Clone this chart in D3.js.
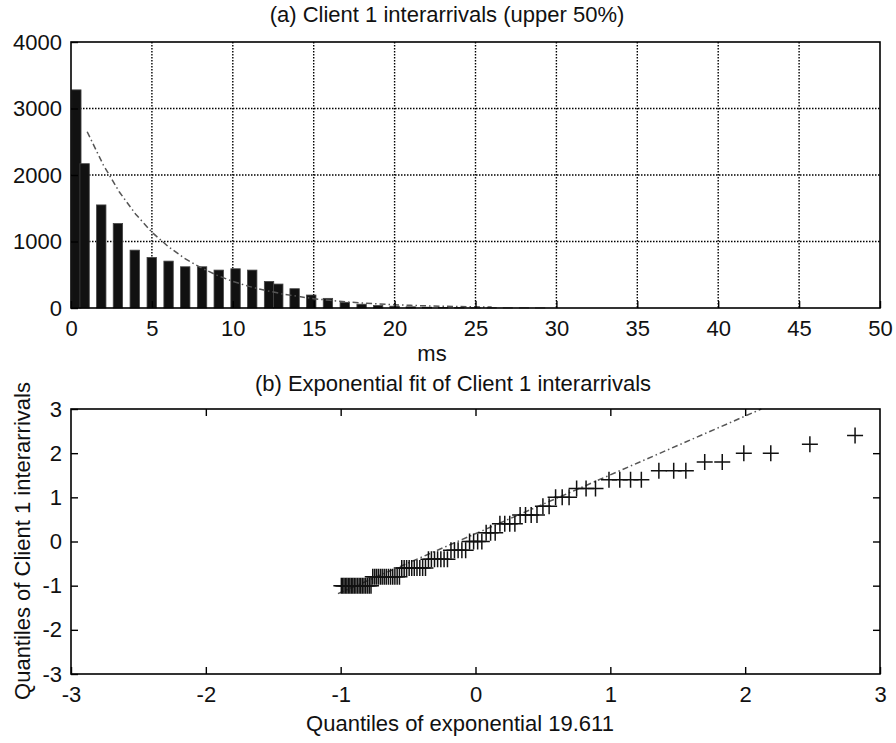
<!DOCTYPE html>
<html>
<head>
<meta charset="utf-8">
<script src="https://cdn.jsdelivr.net/npm/d3@7"></script>
<style>
  body { margin: 0; background: #fff; }
  svg text { font-family: "Liberation Sans", Arial, sans-serif; fill: #111; }
</style>
</head>
<body>
<div id="chart"></div>
<script>
// (a) histogram of interarrivals, bin centres in ms and counts
const binCenters = [0.33, 0.84, 1.87, 2.9, 3.94, 4.99, 6.03, 7.06, 8.1, 9.13, 10.17, 11.2, 12.24, 12.81,
  13.82, 14.85, 15.88, 16.92, 17.96, 18.98, 20.0, 21.0, 22.0, 23.0, 24.0, 25.0, 26.0, 27.0, 28.0, 29.0];
const binCounts = [3280, 2170, 1550, 1270, 870, 760, 705, 620, 620, 570, 590, 570, 400, 360,
  290, 195, 145, 85, 57, 38, 27, 18, 12, 9, 6, 4, 3, 2, 2, 1];

// exponential fit drawn over the histogram
const fitX = [1, 2, 3, 4, 5, 6, 7, 8, 9, 10, 11, 12, 13, 14, 15, 16, 17, 18, 19, 20, 21, 22, 23, 24, 25, 26];
const fitY = [2650, 2150, 1740, 1410, 1140, 925, 750, 610, 495, 400, 325, 265, 215, 175, 140, 115,
  92, 75, 61, 49, 40, 32, 26, 21, 17, 14];

const xTicksA = [0, 5, 10, 15, 20, 25, 30, 35, 40, 45, 50];
const yTicksA = [0, 1000, 2000, 3000, 4000];

// (b) qq plot: quantiles of exponential vs quantiles of the data
const qqX = [
  -0.995, -0.985, -0.975, -0.964, -0.954, -0.943, -0.932, -0.921, -0.910, -0.899,
  -0.887, -0.875, -0.863, -0.851, -0.839, -0.827, -0.814, -0.801, -0.788, -0.775,
  -0.762, -0.748, -0.735, -0.721, -0.706, -0.692, -0.677, -0.662, -0.646, -0.630,
  -0.614, -0.598, -0.581, -0.564,
  -0.547, -0.529, -0.511, -0.492, -0.473, -0.454, -0.434, -0.413, -0.392, -0.371,
  -0.349, -0.327, -0.304, -0.281, -0.257, -0.233, -0.208,
  -0.182, -0.156, -0.129, -0.101, -0.073,
  -0.044, -0.014, 0.016, 0.047,
  0.079, 0.112, 0.146,
  0.181, 0.217, 0.254, 0.292,
  0.331, 0.371, 0.413, 0.456,
  0.500, 0.546,
  0.594, 0.643, 0.694,
  0.75, 0.82, 0.89,
  0.99, 1.07, 1.15, 1.23,
  1.36, 1.47, 1.56,
  1.70, 1.83,
  1.99, 2.19,
  2.48,
  2.815];
const qqY = [
  -1, -1, -1, -1, -1, -1, -1, -1, -1, -1,
  -1, -1, -1, -1, -1, -1, -1, -1, -1, -1,
  -0.8, -0.8, -0.8, -0.8, -0.8, -0.8, -0.8, -0.8, -0.8, -0.8,
  -0.8, -0.8, -0.8, -0.8,
  -0.6, -0.6, -0.6, -0.6, -0.6, -0.6, -0.6, -0.6, -0.6, -0.6,
  -0.4, -0.4, -0.4, -0.4, -0.4, -0.4, -0.4,
  -0.2, -0.2, -0.2, -0.2, -0.2,
  0, 0, 0, 0,
  0.2, 0.2, 0.2,
  0.4, 0.4, 0.4, 0.4,
  0.6, 0.6, 0.6, 0.6,
  0.8, 0.8,
  1.0, 1.0, 1.0,
  1.2, 1.2, 1.2,
  1.4, 1.4, 1.4, 1.4,
  1.6, 1.6, 1.6,
  1.8, 1.8,
  2.0, 2.0,
  2.2,
  2.4];

// reference line ends
const refX = [-1.02, 2.12];
const refY = [-1.18, 3.0];

const qqTicks = [-3, -2, -1, 0, 1, 2, 3];

const width = 896, height = 743;
const left = 71, right = 880;
const fontSize = "22px";
const plain = d => String(d).replace("\u2212", "-");

const svg = d3.select("#chart").append("svg")
  .attr("width", width)
  .attr("height", height);

svg.append("rect").attr("width", width).attr("height", height).attr("fill", "#fff");

// ---------- panel (a) ----------
const topA = 42, bottomA = 308;
const xA = d3.scaleLinear().domain([0, 50]).range([left, right]);
const yA = d3.scaleLinear().domain([0, 4000]).range([bottomA, topA]);

const gA = svg.append("g");

// dotted grid
gA.append("g")
  .selectAll("line.vg")
  .data(xTicksA.slice(1, -1))
  .join("line")
    .attr("x1", d => xA(d)).attr("x2", d => xA(d))
    .attr("y1", topA).attr("y2", bottomA)
    .attr("stroke", "#000").attr("stroke-width", 1.4)
    .attr("stroke-dasharray", "1.5,1.5");
gA.append("g")
  .selectAll("line.hg")
  .data(yTicksA.slice(1, -1))
  .join("line")
    .attr("x1", left).attr("x2", right)
    .attr("y1", d => yA(d)).attr("y2", d => yA(d))
    .attr("stroke", "#000").attr("stroke-width", 1.4)
    .attr("stroke-dasharray", "1.5,1.5");

// bars
const barW = 0.58;
gA.append("g")
  .selectAll("rect")
  .data(binCenters.map((c, i) => [c, binCounts[i]]))
  .join("rect")
    .attr("x", d => xA(d[0] - barW / 2))
    .attr("width", xA(barW) - xA(0))
    .attr("y", d => yA(d[1]))
    .attr("height", d => yA(0) - yA(d[1]))
    .attr("fill", "#111")
    .attr("stroke", "#444")
    .attr("stroke-width", 0.8);

// fitted curve
const lineA = d3.line().x(d => xA(d[0])).y(d => yA(d[1]));
gA.append("path")
  .datum(fitX.map((x, i) => [x, fitY[i]]))
  .attr("d", lineA)
  .attr("fill", "none")
  .attr("stroke", "#555")
  .attr("stroke-width", 1.5)
  .attr("stroke-dasharray", "6,3,1.5,3");

// axes with inward ticks
gA.append("g")
  .attr("transform", `translate(0,${bottomA})`)
  .call(d3.axisBottom(xA).tickValues(xTicksA).tickSize(-7).tickPadding(12).tickFormat(plain))
  .call(g => g.select(".domain").remove());
gA.append("g")
  .attr("transform", `translate(${left},0)`)
  .call(d3.axisLeft(yA).tickValues(yTicksA).tickSize(-7).tickPadding(9).tickFormat(plain))
  .call(g => g.select(".domain").remove());

gA.append("rect")
  .attr("x", left).attr("y", topA)
  .attr("width", right - left).attr("height", bottomA - topA)
  .attr("fill", "none").attr("stroke", "#000").attr("stroke-width", 1.6);

// ---------- panel (b) ----------
const topB = 409, bottomB = 674;
const xB = d3.scaleLinear().domain([-3, 3]).range([left, right]);
const yB = d3.scaleLinear().domain([-3, 3]).range([bottomB, topB]);

const gB = svg.append("g");

gB.append("line")
  .attr("x1", xB(refX[0])).attr("y1", yB(refY[0]))
  .attr("x2", xB(refX[1])).attr("y2", yB(refY[1]))
  .attr("stroke", "#555").attr("stroke-width", 1.5)
  .attr("stroke-dasharray", "6,3,1.5,3");

const cross = 8;
gB.append("g")
  .selectAll("path")
  .data(qqX.map((x, i) => [x, qqY[i]]))
  .join("path")
    .attr("d", d => {
      const px = xB(d[0]), py = yB(d[1]);
      return `M${px - cross},${py}H${px + cross}M${px},${py - cross}V${py + cross}`;
    })
    .attr("stroke", "#111")
    .attr("stroke-width", 1.5)
    .attr("fill", "none");

const inner = [-2, -1, 0, 1, 2];
gB.append("g")
  .attr("transform", `translate(0,${bottomB})`)
  .call(d3.axisBottom(xB).tickValues(qqTicks).tickSize(-7).tickPadding(12).tickFormat(plain))
  .call(g => g.select(".domain").remove());
gB.append("g")
  .attr("transform", `translate(${left},0)`)
  .call(d3.axisLeft(yB).tickValues(qqTicks).tickSize(-7).tickPadding(9).tickFormat(plain))
  .call(g => g.select(".domain").remove());
gB.append("g")
  .attr("transform", `translate(0,${topB})`)
  .call(d3.axisTop(xB).tickValues(inner).tickSize(-7).tickFormat(""))
  .call(g => g.select(".domain").remove());
gB.append("g")
  .attr("transform", `translate(${right},0)`)
  .call(d3.axisRight(yB).tickValues(inner).tickSize(-7).tickFormat(""))
  .call(g => g.select(".domain").remove());

gB.append("rect")
  .attr("x", left).attr("y", topB)
  .attr("width", right - left).attr("height", bottomB - topB)
  .attr("fill", "none").attr("stroke", "#000").attr("stroke-width", 1.6);

// tick styling
svg.selectAll(".tick line").attr("stroke", "#000").attr("stroke-width", 1.4);
svg.selectAll(".tick text")
  .style("font-size", fontSize)
  .style("font-family", "'Liberation Sans', Arial, sans-serif")
  .attr("fill", "#111");

// ---------- titles and labels ----------
const label = (x, y, txt) => svg.append("text")
  .attr("x", x).attr("y", y)
  .attr("text-anchor", "middle")
  .style("font-size", fontSize)
  .text(txt);

label(447, 22, "(a) Client 1 interarrivals (upper 50%)");
label(432, 361, "ms");
label(453, 391, "(b) Exponential fit of Client 1 interarrivals");
label(460, 731, "Quantiles of exponential 19.611");

svg.append("text")
  .attr("transform", `translate(30,541) rotate(-90)`)
  .attr("text-anchor", "middle")
  .style("font-size", fontSize)
  .text("Quantiles of Client 1 interarrivals");
</script>
</body>
</html>
